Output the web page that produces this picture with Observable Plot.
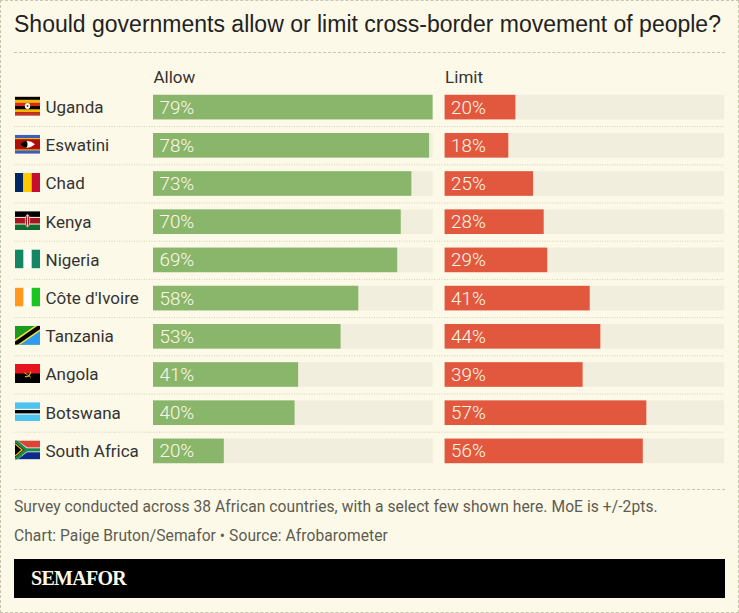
<!DOCTYPE html>
<html>
<head>
<meta charset="utf-8">
<script src="https://cdn.jsdelivr.net/npm/d3@7"></script>
<script src="https://cdn.jsdelivr.net/npm/@observablehq/plot@0.6"></script>
<style>
html,body{margin:0;padding:0;background:#fdf9e8}
#page{position:relative;width:739px;height:613px;overflow:hidden;background:#fdf9e8;box-sizing:border-box}
#edge{position:absolute;left:0;top:0;width:737px;height:611px;border:1px dashed #c9c6ae}
.t{position:absolute;white-space:nowrap;font-family:Roboto,sans-serif}
#title{left:14px;top:9px;font:23px/30px "Liberation Sans",sans-serif;letter-spacing:0;color:#222}
.rule{position:absolute;left:14px;width:711px;border-top:1px dashed #c9c6ae}
.note{left:14px;font-size:15.6px;line-height:20px;color:#5c5c52;letter-spacing:.06px}
#band{position:absolute;left:14px;top:559px;width:711px;height:39px;background:#000}
#brand{position:absolute;left:17px;top:8px;font:bold 20px/23px "Liberation Serif",serif;color:#fdf9e8;letter-spacing:-.7px}
#chart{position:absolute;left:0;top:60px}
#chart svg{display:block;background:transparent}
</style>
</head>
<body>
<div id="page">
  <div id="edge"></div>
  <div class="t" id="title">Should governments allow or limit cross-border movement of people?</div>
  <div class="rule" style="top:52px"></div>
  <div id="chart"></div>
  <div class="rule" style="top:489px"></div>
  <div class="t note" style="top:497px">Survey conducted across 38 African countries, with a select few shown here. MoE is +/-2pts.</div>
  <div class="t note" style="top:526px">Chart: Paige Bruton/Semafor • Source: Afrobarometer</div>
  <div id="band"><div id="brand">SEMAFOR</div></div>
</div>
<script>
const countries = ["Uganda","Eswatini","Chad","Kenya","Nigeria","Côte d'Ivoire","Tanzania","Angola","Botswana","South Africa"];
const allowValues = [79,78,73,70,69,58,53,41,40,20];
const limitValues = [20,18,25,28,29,41,44,39,57,56];
const sides = ["Allow","Limit"];
const trackMax = 79;
const colors = {Allow:"#8ab66b",Limit:"#e2583e"};

const flagArt = {
  "Uganda":'<rect width="30" height="20" fill="#000"/><rect y="3.33" width="30" height="3.33" fill="#f5b800"/><rect y="6.67" width="30" height="3.33" fill="#d9281e"/><rect y="13.33" width="30" height="3.33" fill="#f5b800"/><rect y="16.67" width="30" height="3.33" fill="#d9281e"/><circle cx="15" cy="10" r="3.2" fill="#fff"/><circle cx="15" cy="10" r="1.2" fill="#555"/>',
  "Eswatini":'<rect width="30" height="20" fill="#3e5eb9"/><rect y="3.6" width="30" height="12.8" fill="#ffd900"/><rect y="4.6" width="30" height="10.8" fill="#b10c0c"/><path d="M6 10Q15 3 24 10Q15 17 6 10Z" fill="#fff"/><path d="M6 10Q15 3 15 10Q15 17 6 10Z" fill="#000"/>',
  "Chad":'<rect width="10" height="20" fill="#002664"/><rect x="10" width="10" height="20" fill="#fecb00"/><rect x="20" width="10" height="20" fill="#c60c30"/>',
  "Kenya":'<rect width="30" height="20" fill="#fff"/><rect width="30" height="6" fill="#000"/><rect y="7" width="30" height="6" fill="#a8141c"/><rect y="14" width="30" height="6" fill="#136b2e"/><ellipse cx="15" cy="10" rx="2.6" ry="6.6" fill="#a8141c" stroke="#fff" stroke-width=".7"/><rect x="14.5" y="4" width="1" height="12" fill="#fff"/>',
  "Nigeria":'<rect width="30" height="20" fill="#fff"/><rect width="10" height="20" fill="#118763"/><rect x="20" width="10" height="20" fill="#118763"/>',
  "Côte d'Ivoire":'<rect width="30" height="20" fill="#fff"/><rect width="10" height="20" fill="#ff9a1c"/><rect x="20" width="10" height="20" fill="#19c51f"/>',
  "Tanzania":'<rect width="30" height="20" fill="#1c9a1e"/><path d="M30 0V20H0Z" fill="#2e9bf0"/><path d="M0 20V14.5L24 0H30V5.5L6 20Z" fill="#f5e23c"/><path d="M0 20V16.5L27 0H30V3.5L3 20Z" fill="#000"/>',
  "Angola":'<rect width="30" height="20" fill="#e5141d"/><rect y="10" width="30" height="10" fill="#000"/><path d="M12 13Q17 15 19 8" fill="none" stroke="#f0c419" stroke-width="1.2"/><path d="M11 9L19 14" stroke="#f0c419" stroke-width="1"/>',
  "Botswana":'<rect width="30" height="20" fill="#4cc3f1"/><rect y="7" width="30" height="6" fill="#fff"/><rect y="8.2" width="30" height="3.6" fill="#000"/>',
  "South Africa":'<rect width="30" height="10" fill="#dc4437"/><rect y="10" width="30" height="10" fill="#0b2a8a"/><path d="M0 0L13 10L0 20Z" fill="#000"/><path d="M0 -1L14 8.2H30V11.8H14L0 21" fill="none" stroke="#fff" stroke-width="1.6"/><path d="M0 0L13.5 10L0 20" fill="none" stroke="#1a8a4a" stroke-width="3.4"/><path d="M13.5 10H30" stroke="#1a8a4a" stroke-width="3.4"/><path d="M0 3.5L8.6 10L0 16.5" fill="none" stroke="#f5b800" stroke-width="1.4"/>'
};
const flagUrl = name => "data:image/svg+xml;utf8," + encodeURIComponent(
  `<svg xmlns="http://www.w3.org/2000/svg" width="30" height="20" viewBox="0 0 30 20" preserveAspectRatio="none">${flagArt[name]}</svg>`);

const rows = [
  ...countries.map((c,i)=>({country:c,side:"Allow",value:allowValues[i]})),
  ...countries.map((c,i)=>({country:c,side:"Limit",value:limitValues[i]}))
];
const allowRows = rows.filter(d=>d.side==="Allow");
const separators = countries.slice(0,-1);

const chart = Plot.plot({
  width:739, height:420,
  marginLeft:153, marginRight:14.8, marginTop:28, marginBottom:10,
  style:{background:"transparent",overflow:"visible"},
  fx:{domain:sides,axis:null,paddingInner:0.0411,paddingOuter:0,round:false},
  y:{domain:countries,axis:null,paddingInner:0.355,paddingOuter:0.1775,round:false},
  x:{domain:[0,trackMax],axis:null},
  marks:[
    Plot.barX(rows,{y:"country",fx:"side",x1:0,x2:()=>trackMax,fill:"#f1eedd"}),
    Plot.barX(rows,{y:"country",fx:"side",x1:0,x2:"value",fill:d=>colors[d.side]}),
    Plot.ruleY(separators,{y:d=>d,fx:()=>"Allow",dy:19,stroke:"#d3d0b8",strokeDasharray:"1,1.5",insetLeft:-139,insetRight:-12}),
    Plot.ruleY(separators,{y:d=>d,fx:()=>"Limit",dy:19,stroke:"#d3d0b8",strokeDasharray:"1,1.5"}),
    Plot.text(rows,{y:"country",fx:"side",x:0,dx:6,text:d=>d.value+"%",textAnchor:"start",fill:"#fdf9e8",fontFamily:"Roboto, sans-serif",fontSize:18.8,fontWeight:300}),
    Plot.text(allowRows,{y:"country",fx:"side",x:0,dx:-108,text:"country",textAnchor:"start",fill:"#333",fontFamily:"Roboto, sans-serif",fontSize:17}),
    Plot.image(allowRows,{y:"country",fx:"side",x:0,dx:-126,dy:-1.5,width:25,height:19,src:d=>flagUrl(d.country),preserveAspectRatio:"none"}),
    Plot.text(sides,{fx:d=>d,frameAnchor:"top-left",dy:-11,text:d=>d,textAnchor:"start",lineAnchor:"middle",fill:"#333",fontFamily:"Roboto, sans-serif",fontSize:17})
  ]
});
document.getElementById("chart").append(chart);
</script>
</body>
</html>
